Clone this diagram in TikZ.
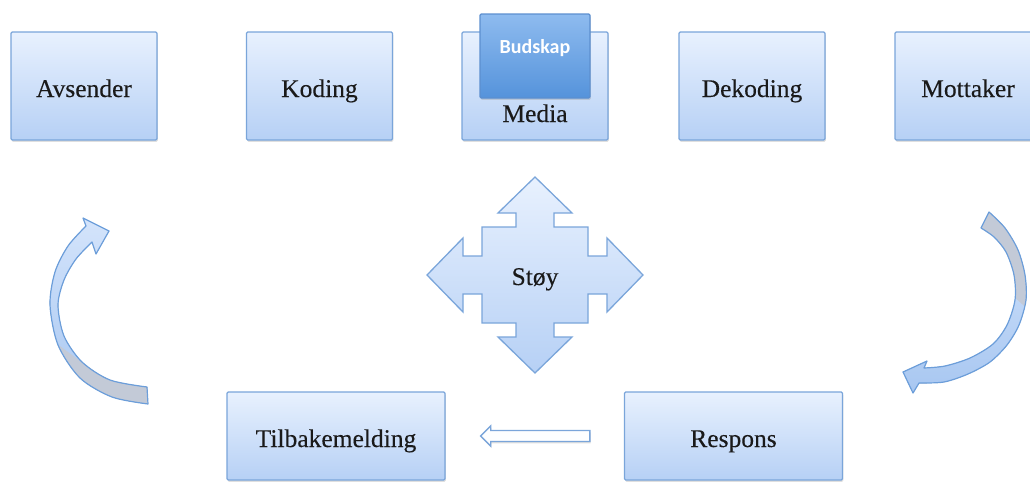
\documentclass[tikz,border=0pt]{standalone}
\usepackage{fontspec}
\setmainfont{Liberation Serif}
\newfontfamily\boxfont{Liberation Serif}[FakeBold=0.25]
\newfontfamily\budfont{Carlito}
\usetikzlibrary{shadows}
\definecolor{boxtop}{HTML}{E8F1FE}
\definecolor{boxbot}{HTML}{B6D0F5}
\definecolor{boxedge}{HTML}{7AA5DA}
\definecolor{budtop}{HTML}{8EBBEF}
\definecolor{budbot}{HTML}{5593DB}
\definecolor{budedge}{HTML}{5C8FCF}
\definecolor{greyback}{HTML}{C3CAD7}
\definecolor{arrtop}{HTML}{D4E4FB}
\definecolor{arrbot}{HTML}{A8C7F1}
\definecolor{arredge}{HTML}{6C9EDA}
\definecolor{txtcol}{HTML}{1A1A1A}
\begin{document}
\begin{tikzpicture}[x=1pt,y=-1pt,
  shad/.style={drop shadow={opacity=0.25,shadow xshift=0.8pt,shadow yshift=-1.8pt}},
  box/.style={draw=boxedge, line width=1.3pt, rounded corners=1.2pt, top color=boxtop, bottom color=boxbot,
    minimum width=146pt, minimum height=108pt, inner sep=0pt, shad,
    text height=22pt, text depth=0pt,
    text=txtcol, font=\boxfont\fontsize{25.5}{29}\selectfont},
  budbox/.style={draw=budedge, line width=1.2pt, rounded corners=1.2pt, top color=budtop, bottom color=budbot,
    minimum width=110pt, minimum height=84pt, inner sep=0pt, shad},
  budtxt/.style={text=white, font=\budfont\bfseries\fontsize{20}{24}\selectfont, inner sep=0pt},
  txt/.style={text=txtcol, font=\boxfont\fontsize{25.5}{29}\selectfont, inner sep=0pt, anchor=base},
  stoyshape/.style={draw=boxedge, line width=1.3pt, top color=boxtop, bottom color=boxbot, line join=miter},
  curv/.style={top color=arrtop, bottom color=arrbot},
  curvline/.style={draw=arredge, line width=1.2pt, line join=round},
  hollow/.style={draw=boxedge, line width=1.3pt, fill=white!90!boxtop, shad}
]
\useasboundingbox (0,0) rectangle (1030,482);
\clip (0,0) rectangle (1030,482);

% top row
\node[box] (avs) at (84,86) {Avsender};
\node[box] (kod) at (319.5,86) {Koding};
\node[box] (med) at (535,86) {};
\node[txt] (medt) at (535,122) {Media};
\node[budbox] (bud) at (535,56) {};
\node[budtxt] (budt) at (535,48) {Budskap};
\node[box] (dek) at (752,86) {Dekoding};
\node[box] (mot) at (968,86) {Mottaker};

% bottom row
\node[box, minimum width=218pt, minimum height=88pt] (til) at (336,436) {Tilbakemelding};
\node[box, minimum width=218pt, minimum height=88pt] (res) at (733.5,436) {Respons};

% Stoy four-way arrow
\draw[stoyshape] (535,177) -- (572,213) -- (554,213) -- (554,227) -- (588,227) -- (588,256)
  -- (607,256) -- (607,238) -- (643,275) -- (607,312) -- (607,294) -- (588,294) -- (588,323)
  -- (554,323) -- (554,337) -- (572,337) -- (535,373) -- (498,337) -- (516,337) -- (516,323)
  -- (482,323) -- (482,294) -- (463,294) -- (463,312) -- (427,275) -- (463,238) -- (463,256)
  -- (482,256) -- (482,227) -- (516,227) -- (516,213) -- (498,213) -- cycle;
\node[txt] (stoy) at (535,285) {Støy};

% feedback block arrow from Respons to Tilbakemelding
\coordinate (fbtail) at ([xshift=-34pt]res.west);
\coordinate (fbtip) at ([xshift=35pt]til.east);
\draw[hollow] ([yshift=5.5pt]fbtail) -- ([xshift=10pt,yshift=5.5pt]fbtip) -- ([xshift=10pt,yshift=10pt]fbtip)
  -- (fbtip) -- ([xshift=10pt,yshift=-10pt]fbtip) -- ([xshift=10pt,yshift=-5.5pt]fbtip)
  -- ([yshift=-5.5pt]fbtail) -- cycle;

% left curved arrow
\def\leftarc{plot[smooth] coordinates {(148,404) (112,397) (80,378) (58,345) (50,305) (55,272) (68,246) (86,226)}
  -- (83,218) -- (109,231) -- (96,254)
  -- plot[smooth] coordinates {(92,242) (76,259) (64,280) (58,305) (64,336) (82,362) (110,380) (147,387)} -- cycle}
\fill[curv] \leftarc;
\begin{scope}
  \clip \leftarc;
  \fill[greyback] (45,335) -- (95,372) -- (170,372) -- (170,420) -- (30,420) -- cycle;
\end{scope}
\draw[curvline] \leftarc;

% right curved arrow
\def\rightarc{plot[smooth] coordinates {(989,212) (1005,228) (1018,250) (1025,275) (1026,300) (1019,325) (1007,345) (990,362) (968,374) (944,382) (919,383)}
  -- (913,393) -- (903,372) -- (927,361)
  -- plot[smooth] coordinates {(924,368) (945,366) (970,358) (993,344) (1007,325) (1015,300) (1014,275) (1006,252) (994,237) (981,228)} -- cycle}
\fill[curv] \rightarc;
\begin{scope}
  \clip \rightarc;
  \fill[greyback] (950,190) -- (1040,190) -- (1040,320) -- (995,280) -- (950,280) -- cycle;
\end{scope}
\draw[curvline] \rightarc;
\end{tikzpicture}
\end{document}
